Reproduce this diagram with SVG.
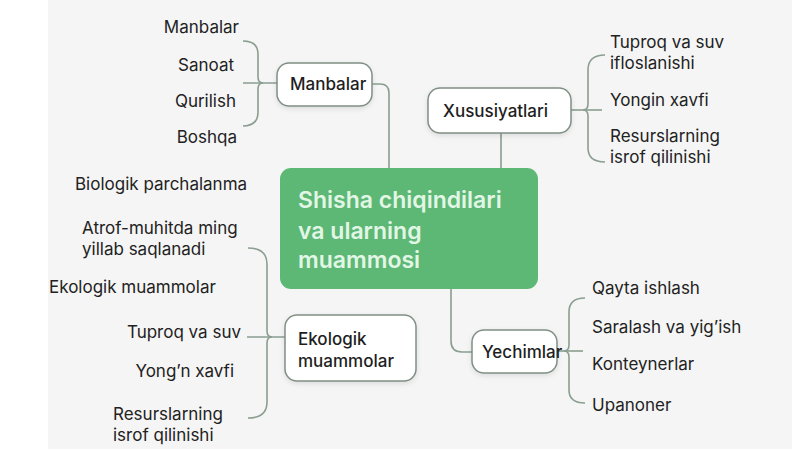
<svg xmlns="http://www.w3.org/2000/svg" width="800" height="450" viewBox="0 0 800 450">
  <defs>
    <filter id="sh" x="-20%" y="-20%" width="140%" height="150%">
      <feDropShadow dx="0" dy="2" stdDeviation="2.5" flood-color="#000" flood-opacity="0.10"/>
    </filter>
    <style>
      .lbl { font-family: Inter, "Noto Sans", "Liberation Sans", sans-serif; font-size: 17px; fill: #222; }
      .nodetxt { font-family: Inter, "Noto Sans", "Liberation Sans", sans-serif; font-size: 17px; font-weight: 500; fill: #1e1e1e; }
      .node { fill: #ffffff; stroke: #7f8f84; stroke-width: 1.5; }
      .conn { fill: none; stroke: #8a9e90; stroke-width: 1.6; }
      .center { fill: #5cb874; }
      .ctxt { font-family: Inter, "Noto Sans", "Liberation Sans", sans-serif; font-size: 23px; font-weight: 600; fill: #e2f6e6; }
      .r { text-anchor: end; }
    </style>
  </defs>
  <rect x="0" y="0" width="800" height="450" fill="#ffffff"/>
  <rect x="48" y="0" width="744" height="449" fill="#f5f5f5"/>

  <g id="connectors">
    <path class="conn" d="M372,84 H380 Q389,84 389,93 V169"/>
    <path class="conn" d="M501,133 V169"/>
    <path class="conn" d="M451,289 V341 Q451,352 462,352 H472"/>
    <path class="conn" d="M285,337 H247"/>
    <path class="conn" d="M277,83 H243"/>
    <path class="conn" d="M571,110 H602"/>
    <path class="conn" d="M557,351 H583"/>
    <!-- braces -->
    <path class="conn" d="M243,41 Q258,41 258,54 V77 Q258,83 263,83 Q258,83 258,89 V112 Q258,126 243,126"/>
    <path class="conn" d="M605,55 Q588,55 588,70 V104 Q588,110 583,110 Q588,110 588,116 V148 Q588,162 605,162"/>
    <path class="conn" d="M248,248 Q267,248 267,264 V331 Q267,337 272,337 Q267,337 267,343 V402 Q267,418 248,418"/>
    <path class="conn" d="M585,298 Q569,298 569,312 V345 Q569,351 564,351 Q569,351 569,357 V390 Q569,403 585,403"/>
  </g>

  <g id="center">
    <rect class="center" x="280" y="168" width="258" height="121" rx="11"/>
    <text class="ctxt" x="298" y="208">Shisha chiqindilari</text>
    <text class="ctxt" x="298" y="239">va ularning</text>
    <text class="ctxt" x="298" y="268">muammosi</text>
  </g>

  <g id="manbalar">
    <rect class="node" x="277" y="63" width="95" height="43" rx="12" filter="url(#sh)"/>
    <text class="nodetxt" x="290" y="90">Manbalar</text>
  </g>
  <g id="manbalar-items">
    <text class="lbl r" x="239" y="33">Manbalar</text>
    <text class="lbl r" x="234" y="71">Sanoat</text>
    <text class="lbl r" x="236" y="107">Qurilish</text>
    <text class="lbl r" x="237" y="143">Boshqa</text>
  </g>

  <g id="xususiyatlari">
    <rect class="node" x="428" y="88" width="143" height="45" rx="12" filter="url(#sh)"/>
    <text class="nodetxt" x="443" y="117">Xususiyatlari</text>
  </g>
  <g id="xususiyatlari-items">
    <text class="lbl" x="610" y="48">Tuproq va suv</text>
    <text class="lbl" x="610" y="69">ifloslanishi</text>
    <text class="lbl" x="610" y="106">Yongin xavfi</text>
    <text class="lbl" x="610" y="142">Resurslarning</text>
    <text class="lbl" x="610" y="163">isrof qilinishi</text>
  </g>

  <g id="ekologik">
    <rect class="node" x="285" y="315" width="131" height="66" rx="12" filter="url(#sh)"/>
    <text class="nodetxt" x="298" y="345">Ekologik</text>
    <text class="nodetxt" x="298" y="367">muammolar</text>
  </g>
  <g id="ekologik-items">
    <text class="lbl" x="75" y="190">Biologik parchalanma</text>
    <text class="lbl" x="82" y="234">Atrof-muhitda ming</text>
    <text class="lbl" x="82" y="255">yillab saqlanadi</text>
    <text class="lbl" x="49" y="293">Ekologik muammolar</text>
    <text class="lbl r" x="241" y="338">Tuproq va suv</text>
    <text class="lbl r" x="234" y="377">Yong’n xavfi</text>
    <text class="lbl" x="113" y="420">Resurslarning</text>
    <text class="lbl" x="113" y="441">isrof qilinishi</text>
  </g>

  <g id="yechimlar">
    <rect class="node" x="472" y="330" width="85" height="43" rx="12" filter="url(#sh)"/>
    <text class="nodetxt" x="482" y="358">Yechimlar</text>
  </g>
  <g id="yechimlar-items">
    <text class="lbl" x="592" y="294">Qayta ishlash</text>
    <text class="lbl" x="592" y="333">Saralash va yig’ish</text>
    <text class="lbl" x="592" y="370">Konteynerlar</text>
    <text class="lbl" x="592" y="411">Upanoner</text>
  </g>
</svg>
